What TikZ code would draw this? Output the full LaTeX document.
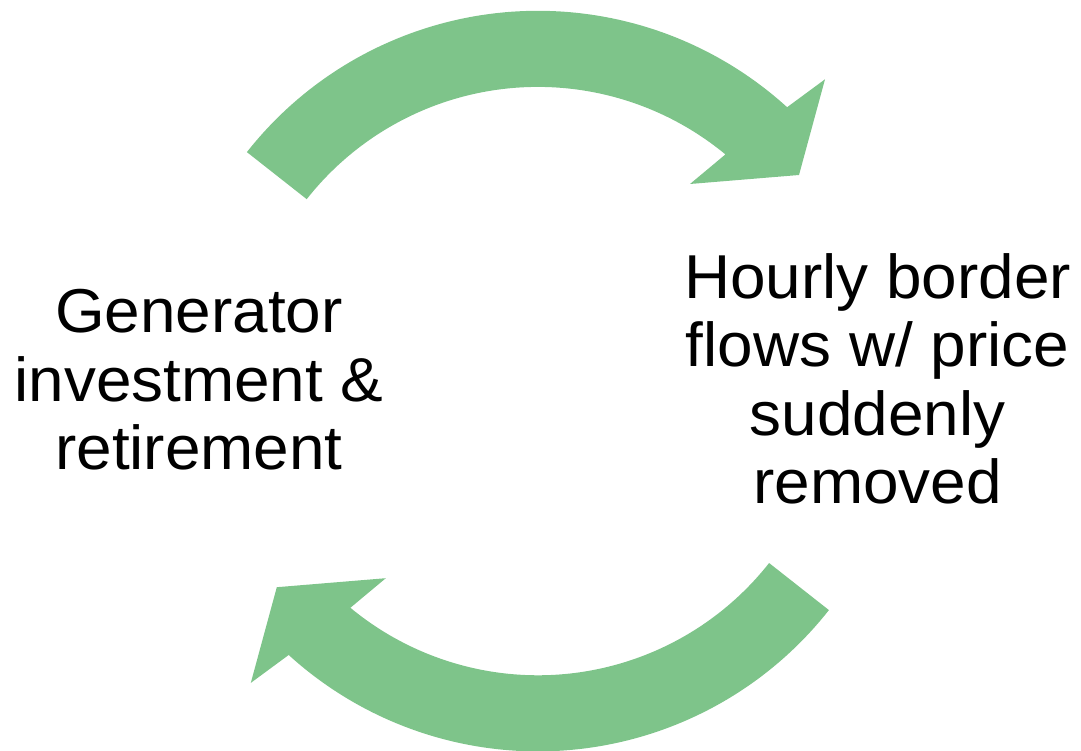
\documentclass[tikz,border=0pt]{standalone}
\usepackage{fontspec}
\setmainfont[FakeStretch=1.03]{Liberation Sans}
\definecolor{arrowgreen}{RGB}{126,196,138}
\begin{document}
\begin{tikzpicture}[x=1pt,y=1pt,
  cyclearrow/.style={fill=arrowgreen,draw=none},
  label/.style={align=center,anchor=base,inner sep=0pt,
    font=\fontsize{62}{68.5}\selectfont}]
\useasboundingbox (0,0) rectangle (1081,750);
\coordinate (C) at (537.9,368.9);
% upper arc arrow, left to right
\draw[cyclearrow] ([shift={(C)}]141.8:370.3)
  arc[start angle=141.8, end angle=47.7, radius=370.3]
  -- (825,670.7) -- (799,575) -- (690,566)
  -- ([shift={(C)}]50.4:294.2)
  arc[start angle=50.4, end angle=141.8, radius=294.2] -- cycle;
% lower arc arrow, the same shape turned half a turn about the centre
\begin{scope}[rotate around={180:(C)}]
\draw[cyclearrow] ([shift={(C)}]141.8:370.3)
  arc[start angle=141.8, end angle=47.7, radius=370.3]
  -- (825,670.7) -- (799,575) -- (690,566)
  -- ([shift={(C)}]50.4:294.2)
  arc[start angle=50.4, end angle=141.8, radius=294.2] -- cycle;
\end{scope}
% base anchor sits on the last line's baseline
\node[label] (gen) at (199,280) {Generator\\investment \&\\retirement};
\node[label] (flows) at (877.5,246) {Hourly border\\flows w/ price\\suddenly\\removed};
\end{tikzpicture}
\end{document}
